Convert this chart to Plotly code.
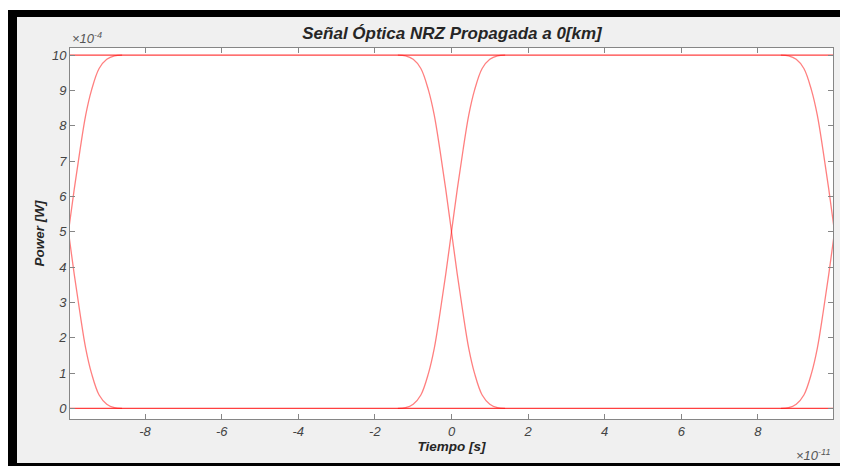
import plotly.graph_objects as go

# Eye diagram values
# time in units of 1e-11 s, power in units of 1e-4 W
edge_t = [-1.4, -1.2, -1.0, -0.8, -0.6, -0.45, -0.3, -0.15, 0.0,
          0.15, 0.3, 0.45, 0.6, 0.8, 1.0, 1.2, 1.4]
falling_p = [10.0, 9.98, 9.88, 9.62, 9.0, 8.3, 7.3, 6.2, 5.0,
             3.8, 2.7, 1.7, 1.0, 0.38, 0.12, 0.02, 0.0]
rising_p = [0.0, 0.02, 0.12, 0.38, 1.0, 1.7, 2.7, 3.8, 5.0,
            6.2, 7.3, 8.3, 9.0, 9.62, 9.88, 9.98, 10.0]
edge_centers = [-10, 0, 10]
level_t = [-10, 10]
high_p = [10, 10]
low_p = [0, 0]

x_ticks = [-8, -6, -4, -2, 0, 2, 4, 6, 8]
y_ticks = [0, 1, 2, 3, 4, 5, 6, 7, 8, 9, 10]

red = 'rgba(255,0,0,0.5)'

fig = go.Figure()

for p in [high_p, low_p]:
    fig.add_trace(go.Scatter(x=level_t, y=p, mode='lines',
                             line=dict(color='rgba(255,0,0,0.75)', width=1.2),
                             showlegend=False, hoverinfo='skip'))

for c in edge_centers:
    xs = [c + t for t in edge_t]
    for p in [falling_p, rising_p]:
        fig.add_trace(go.Scatter(x=xs, y=p, mode='lines',
                                 line=dict(color=red, width=1.3, shape='spline'),
                                 showlegend=False, hoverinfo='skip'))

# the page body has an 8px margin, so the figure is 840x458
W, H = 840, 458
L, R, T, B = 62, 825, 40, 411


def px(x):
    return (x - L) / (R - L)


def py(y):
    return (B - y) / (B - T)


frame = [
    (0, 0, W, 2, 'white'),
    (0, 2, W, 9, 'black'),
    (0, 2, 9, H, 'black'),
    (0, 455, W, H, 'black'),
]
shapes = []
for x0, y0, x1, y1, col in frame:
    shapes.append(dict(type='rect', xref='paper', yref='paper',
                       x0=px(x0), x1=px(x1), y0=py(y1), y1=py(y0),
                       fillcolor=col, line=dict(width=0), layer='below'))

font = 'Liberation Sans, Arial, sans-serif'
axis_col = '#868686'
txt_col = '#262626'

fig.update_layout(
    width=W, height=H,
    margin=dict(l=L, r=W - R, t=T, b=H - B, pad=0),
    paper_bgcolor='#f0f0f0',
    plot_bgcolor='white',
    shapes=shapes,
    title=dict(text='<b><i>Señal Óptica NRZ Propagada a 0[km]</i></b>',
               x=px(444), xref='paper', xanchor='center',
               y=1 - 25 / H, yanchor='middle',
               font=dict(family=font, size=17, color=txt_col)),
    font=dict(family=font, size=13, color=txt_col),
    xaxis=dict(range=[-9.96, 9.96], tickvals=x_ticks,
               ticktext=['<i>%d</i>' % v for v in x_ticks],
               showgrid=False, zeroline=False,
               showline=True, linecolor=axis_col, linewidth=1, mirror='ticks',
               ticks='inside', ticklen=5, tickcolor=axis_col,
               tickfont=dict(size=13, color='#444444'),
               title=dict(text='<b><i>Tiempo [s]</i></b>', standoff=2,
                          font=dict(size=13.5, color=txt_col))),
    yaxis=dict(range=[-0.3, 10.2], tickvals=y_ticks,
               ticktext=['<i>%d</i>' % v for v in y_ticks],
               showgrid=False, zeroline=False,
               showline=True, linecolor=axis_col, linewidth=1, mirror='ticks',
               ticks='inside', ticklen=5, tickcolor=axis_col,
               tickfont=dict(size=13, color='#444444'),
               title=dict(text='<b><i>Power [W]</i></b>', standoff=4,
                          font=dict(size=13.5, color=txt_col))),
    annotations=[
        dict(text='<i>×10<sup>-4</sup></i>', xref='paper', yref='paper',
             x=0, y=1, xanchor='left', yanchor='bottom', showarrow=False,
             font=dict(size=13, color='#555555')),
        dict(text='<i>×10<sup>-11</sup></i>', xref='paper', yref='paper',
             x=1, y=py(447), xanchor='right', yanchor='middle', showarrow=False,
             font=dict(size=13, color='#555555')),
    ],
)

fig.write_html('out.html')
